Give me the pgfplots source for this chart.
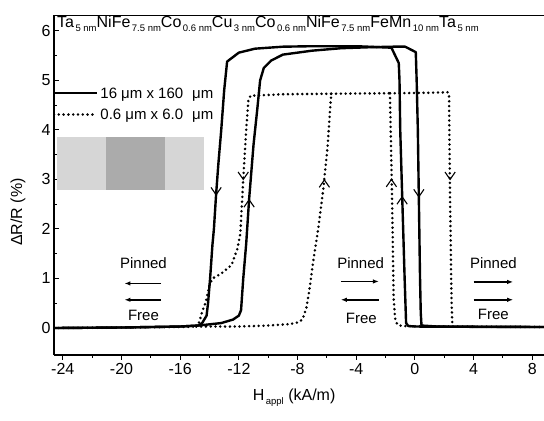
\documentclass[border=0pt]{standalone}
\usepackage{fontspec}
\setmainfont{Liberation Sans}
\usepackage{pgfplots}
\pgfplotsset{compat=1.18}
\usetikzlibrary{arrows.meta}
\newcommand{\sz}[1]{\fontsize{#1}{#1}\selectfont}
\newcommand{\sub}[1]{\hspace{1.5bp}\raisebox{-4bp}{\fontsize{9.5bp}{9.5bp}\selectfont #1}}
\pgfplotsset{
 solidc/.style={black, line width=2.4bp, line join=round, mark=none},
 dotc/.style={black, line width=2.8bp, line cap=round, dash pattern=on 0pt off 4.8bp, mark=none},
 chev/.style={black, line width=1.1bp, mark=none},
}
\begin{document}
\begin{tikzpicture}
\useasboundingbox (-54bp,-66bp) rectangle (490bp,355bp);
\begin{axis}[
 at={(0,0)}, anchor=south west,
 scale only axis, width=490bp, height=340bp,
 xmin=-24.6, xmax=8.8, ymin=-0.545, ymax=6.32,
 axis x line*=bottom, axis y line*=left,
 xtick={-24,-20,...,8}, ytick={0,1,...,6},
 minor x tick num=1, minor y tick num=1,
 xtick align=outside, ytick align=inside,
 major tick length=5bp, minor tick length=3bp,
 tick style={line width=1bp, black},
 axis line style={line width=1.3bp},
 tick label style={font=\sz{16bp}},
 /pgf/number format/assume math mode=true,
 xlabel={H\sub{appl} (kA/m)},
 ylabel={ΔR/R (\%)},
 label style={font=\sz{16bp}},
 xlabel style={at={(axis description cs:0.49,-0.125)}, anchor=center},
 ylabel style={at={(axis description cs:-0.0735,0.42)}, anchor=center},
 clip=true,
]
% top frame line
\draw[line width=1.3bp] (rel axis cs:0,1) -- (rel axis cs:1,1);

% element sketch (gray rectangles)
\addplot[fill=black!16, draw=none] coordinates {(-24.4,2.79) (-21.05,2.79) (-21.05,3.86) (-24.4,3.86)} --cycle;
\addplot[fill=black!33, draw=none] coordinates {(-21.05,2.79) (-17.05,2.79) (-17.05,3.86) (-21.05,3.86)} --cycle;
\addplot[fill=black!16, draw=none] coordinates {(-17.05,2.79) (-14.4,2.79) (-14.4,3.86) (-17.05,3.86)} --cycle;

% legend
\addplot[solidc] coordinates {(-24.6,4.75) (-21.67,4.75)};
\addplot[dotc] coordinates {(-24.6,4.31) (-21.67,4.31)};
\node[anchor=base west, inner sep=0pt, font=\sz{15bp}] at (axis cs:-21.45,4.64) {16 μm x 160\hspace{0.6em}μm};
\node[anchor=base west, inner sep=0pt, font=\sz{15bp}] at (axis cs:-21.45,4.20) {0.6 μm x 6.0\hspace{0.6em}μm};

% 16 um x 160 um, decreasing field
\addplot[solidc] coordinates {(8.8,0.02) (3,0.025) (0,0.03) (-0.45,0.04) (-0.6,0.1) (-0.7,1.0) (-0.8,2.0) (-0.9,3.0) (-1.0,4.0) (-1.05,5.0) (-1.1,5.35) (-1.6,5.66) (-4,5.69) (-7,5.69) (-9,5.68) (-10.9,5.64) (-12.0,5.56) (-12.8,5.38) (-13.0,4.8) (-13.2,4.0) (-13.4,3.3) (-13.55,2.7) (-13.7,2.0) (-13.8,1.68) (-13.96,1.0) (-14.1,0.5) (-14.2,0.25) (-14.5,0.1) (-14.75,0.05) (-16,0.03) (-20,0.01) (-24.6,0.0)};
% 16 um x 160 um, increasing field
\addplot[solidc] coordinates {(-24.6,0) (-20,0.01) (-16,0.03) (-14.75,0.05) (-13.2,0.1) (-12.4,0.17) (-12.0,0.25) (-11.85,0.36) (-11.7,1.0) (-11.5,1.7) (-11.3,2.6) (-11.0,3.7) (-10.75,4.4) (-10.55,5.0) (-10.3,5.25) (-9.8,5.4) (-9.0,5.52) (-7,5.6) (-5,5.65) (-3,5.67) (-1.5,5.68) (-0.66,5.68) (0.06,5.57) (0.12,5.0) (0.2,4.0) (0.25,3.0) (0.3,2.0) (0.35,1.0) (0.4,0.3) (0.45,0.05) (1.5,0.03) (8.8,0.02)};

% 0.6 um x 6.0 um (pieces, shared parts drawn once)
\addplot[dotc] coordinates {(-24.6,0.0) (-20,0.01) (-16,0.02) (-14.9,0.03)};
\addplot[dotc] coordinates {(-14.9,0.03) (-14.7,0.12) (-14.5,0.33) (-14.25,0.53) (-14.0,0.87) (-13.8,1.0) (-13.2,1.1) (-12.5,1.27) (-12.1,1.6) (-11.9,1.9) (-11.7,3.0) (-11.5,4.0) (-11.35,4.6) (-11.2,4.69) (-9,4.72) (-5.7,4.73)};
\addplot[dotc] coordinates {(-14.9,0.03) (-12,0.03) (-10,0.05) (-8.5,0.08) (-7.9,0.12) (-7.65,0.18) (-7.4,0.4) (-7.2,0.75) (-6.95,1.31) (-6.6,1.98) (-6.25,2.79) (-5.95,3.66) (-5.8,4.34) (-5.7,4.73)};
\addplot[dotc] coordinates {(-5.7,4.73) (-1.7,4.74)};
\addplot[dotc] coordinates {(-1.7,4.74) (-1.65,4.0) (-1.55,2.5) (-1.45,0.6) (-1.35,0.2) (-1.2,0.07) (-0.9,0.04) (1,0.03) (2.6,0.03)};
\addplot[dotc] coordinates {(-1.7,4.74) (1,4.75) (2.25,4.76) (2.33,4.7) (2.38,3.0) (2.45,1.5) (2.5,0.5) (2.55,0.1) (2.6,0.03)};
\addplot[dotc] coordinates {(2.6,0.03) (8.8,0.02)};

% direction chevrons
\addplot[chev] coordinates {(-13.9,2.84) (-13.55,2.69) (-13.2,2.84)};
\addplot[chev] coordinates {(-11.65,2.44) (-11.3,2.59) (-10.95,2.44)};
\addplot[chev] coordinates {(-12.05,3.15) (-11.7,3.0) (-11.35,3.15)};
\addplot[chev] coordinates {(-6.52,2.84) (-6.17,2.99) (-5.82,2.84)};
\addplot[chev] coordinates {(-1.95,2.85) (-1.6,3.0) (-1.25,2.85)};
\addplot[chev] coordinates {(-1.22,2.5) (-0.87,2.65) (-0.52,2.5)};
\addplot[chev] coordinates {(-0.08,2.8) (0.27,2.65) (0.62,2.8)};
\addplot[chev] coordinates {(2.05,3.15) (2.4,3.0) (2.75,3.15)};

% Pinned / Free annotations
\begin{scope}[font=\sz{15bp}]
\node at (axis cs:-18.5,1.30) {Pinned};
\node at (axis cs:-18.5,0.26) {Free};
\node at (axis cs:-3.7,1.30) {Pinned};
\node at (axis cs:-3.65,0.19) {Free};
\node at (axis cs:5.35,1.31) {Pinned};
\node at (axis cs:5.35,0.28) {Free};
\end{scope}
\begin{scope}[line width=1.6bp, arrows={-{Latex[length=6bp,width=4.5bp]}}]
\draw (axis cs:-17.3,0.90) -- (axis cs:-19.8,0.90);
\draw (axis cs:-17.3,0.57) -- (axis cs:-19.8,0.57);
\draw (axis cs:-5.05,0.94) -- (axis cs:-2.45,0.94);
\draw (axis cs:-2.45,0.57) -- (axis cs:-5.05,0.57);
\draw (axis cs:4.0,0.93) -- (axis cs:6.7,0.93);
\draw (axis cs:4.0,0.57) -- (axis cs:6.7,0.57);
\end{scope}

% layer stack title
\node[anchor=base west, inner sep=0pt, font=\sz{16bp}] at (axis description cs:0.006,0.962)
 {Ta\sub{5 nm}NiFe\sub{7.5 nm}Co\sub{0.6 nm}Cu\sub{3 nm}Co\sub{0.6 nm}NiFe\sub{7.5 nm}FeMn\sub{10 nm}Ta\sub{5 nm}};
\end{axis}
\end{tikzpicture}
\end{document}
